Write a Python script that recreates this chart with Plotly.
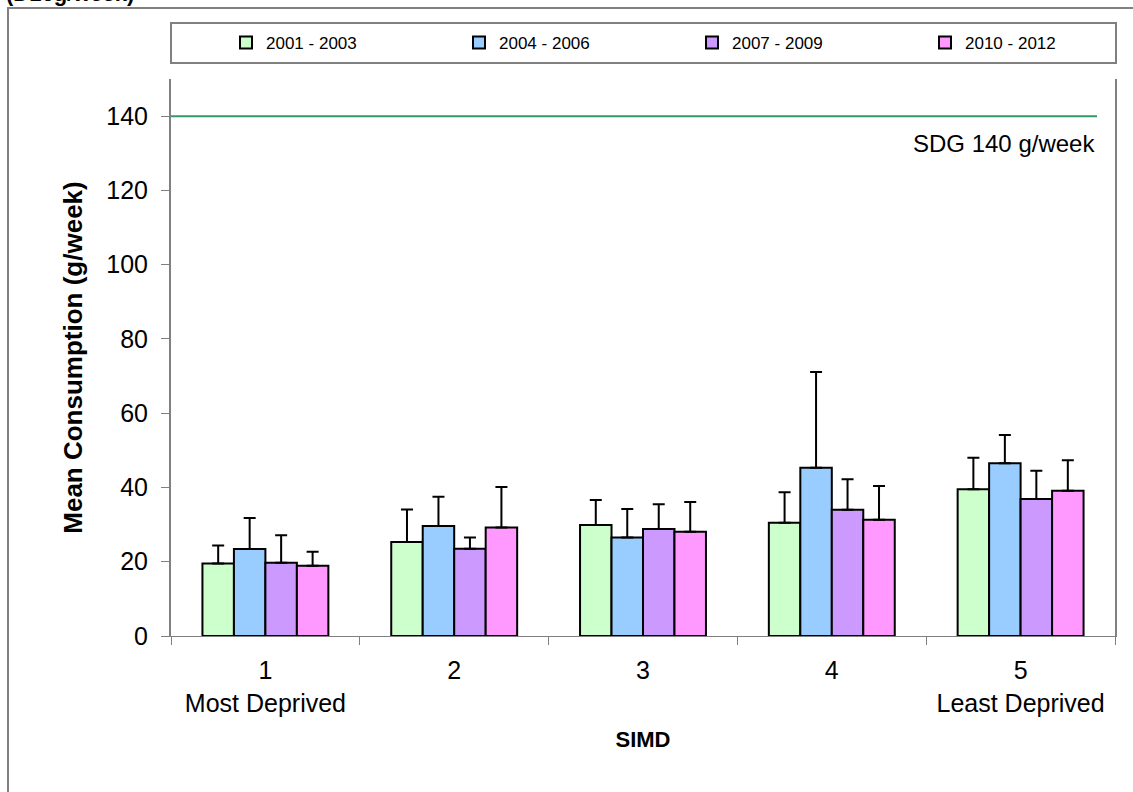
import plotly.graph_objects as go

# SIMD quintiles (1 = most deprived, 5 = least deprived)
simd = ["1", "2", "3", "4", "5"]
simd_ticktext = ["1<br>Most Deprived", "2", "3", "4", "5<br>Least Deprived"]

periods = ["2001 - 2003", "2004 - 2006", "2007 - 2009", "2010 - 2012"]
colors = ["#CCFFCC", "#99CCFF", "#CC99FF", "#FF99FF"]

# Mean consumption (g/week) per SIMD quintile
mean_2001_2003 = [19.5, 25.3, 29.9, 30.5, 39.5]
mean_2004_2006 = [23.4, 29.6, 26.5, 45.3, 46.5]
mean_2007_2009 = [19.7, 23.5, 28.8, 34.0, 36.9]
mean_2010_2012 = [18.9, 29.2, 28.1, 31.3, 39.1]

# Upper confidence interval half-widths (g/week)
ci_2001_2003 = [4.9, 8.8, 6.7, 8.2, 8.5]
ci_2004_2006 = [8.4, 7.9, 7.7, 25.8, 7.6]
ci_2007_2009 = [7.4, 3.0, 6.7, 8.2, 7.6]
ci_2010_2012 = [3.8, 10.9, 8.0, 9.1, 8.2]

sdg_target = 140
sdg_label = "SDG 140 g/week"

means = [mean_2001_2003, mean_2004_2006, mean_2007_2009, mean_2010_2012]
cis = [ci_2001_2003, ci_2004_2006, ci_2007_2009, ci_2010_2012]

FONT = "Liberation Sans, Arial, sans-serif"
GRID = "#808080"

# page geometry (px)
W, H = 1133, 792
L, R, T, B = 171, 18, 79, 156
plot_w = W - L - R
plot_h = H - T - B


def px_x(px):
    return (px - L) / plot_w


def px_y(py):
    return 1 + (T - py) / plot_h


legend_names = ["legend", "legend2", "legend3", "legend4"]
legend_left_px = [226, 459, 692, 925]

fig = go.Figure()
for name, col, m, e, lg in zip(periods, colors, means, cis, legend_names):
    fig.add_trace(go.Bar(
        name=name,
        x=simd,
        y=m,
        legend=lg,
        marker=dict(color=col, line=dict(color="black", width=2)),
        error_y=dict(type="data", array=e, symmetric=False, arrayminus=[0] * len(e),
                     color="black", thickness=2, width=6),
    ))

# SDG reference line
fig.add_shape(type="line", xref="paper", yref="y",
              x0=0, x1=px_x(1097), y0=sdg_target, y1=sdg_target,
              line=dict(color="#339966", width=2))
fig.add_annotation(xref="paper", yref="y", x=px_x(1097), y=sdg_target,
                   xanchor="right", yanchor="top", yshift=-12, showarrow=False,
                   text=sdg_label, font=dict(family=FONT, size=24, color="black"))

# outer chart frame
fig.add_shape(type="rect", xref="paper", yref="paper",
              x0=px_x(8), x1=px_x(1160), y0=px_y(820), y1=px_y(8),
              line=dict(color=GRID, width=2), layer="below")
# legend frame
fig.add_shape(type="rect", xref="paper", yref="paper",
              x0=px_x(171), x1=px_x(1116), y0=px_y(63), y1=px_y(23),
              line=dict(color=GRID, width=2), layer="below")

# partially visible heading at the top edge
fig.add_annotation(xref="paper", yref="paper", x=px_x(4), y=px_y(-7),
                   xanchor="left", yanchor="middle", showarrow=False,
                   text="<b>(D16g/week)</b>", font=dict(family=FONT, size=22, color="black"))

legend_style = dict(orientation="h", xanchor="left", yanchor="middle",
                    font=dict(family=FONT, size=17, color="black"),
                    bgcolor="rgba(0,0,0,0)", borderwidth=0)
layout_legends = {}
for lg, lx in zip(legend_names, legend_left_px):
    layout_legends[lg] = dict(legend_style, x=px_x(lx), y=px_y(43))

fig.update_layout(
    width=W, height=H,
    margin=dict(l=L, r=R, t=T, b=B, pad=0),
    paper_bgcolor="white", plot_bgcolor="white",
    barmode="group", bargap=0.333, bargroupgap=0,
    font=dict(family=FONT, color="black"),
    showlegend=True,
    xaxis=dict(type="category", tickvals=simd, ticktext=simd_ticktext,
               tickson="boundaries", ticks="outside", ticklen=8, tickcolor=GRID, tickwidth=1,
               ticklabelstandoff=12,
               showline=True, linecolor=GRID, linewidth=1, showgrid=False, zeroline=False,
               tickfont=dict(family=FONT, size=25, color="black"),
               title=dict(text="<b>SIMD</b>", font=dict(family=FONT, size=22, color="black"),
                          standoff=16)),
    yaxis=dict(range=[0, 150], tickvals=[0, 20, 40, 60, 80, 100, 120, 140],
               ticks="outside", ticklen=8, tickcolor=GRID, tickwidth=1,
               ticklabelstandoff=8,
               showline=True, linecolor=GRID, linewidth=2, mirror=True,
               showgrid=False, zeroline=False,
               tickfont=dict(family=FONT, size=25, color="black"),
               title=dict(text="<b>Mean Consumption (g/week)</b>",
                          font=dict(family=FONT, size=26, color="black"), standoff=16)),
    **layout_legends,
)

fig.write_html("out.html")
